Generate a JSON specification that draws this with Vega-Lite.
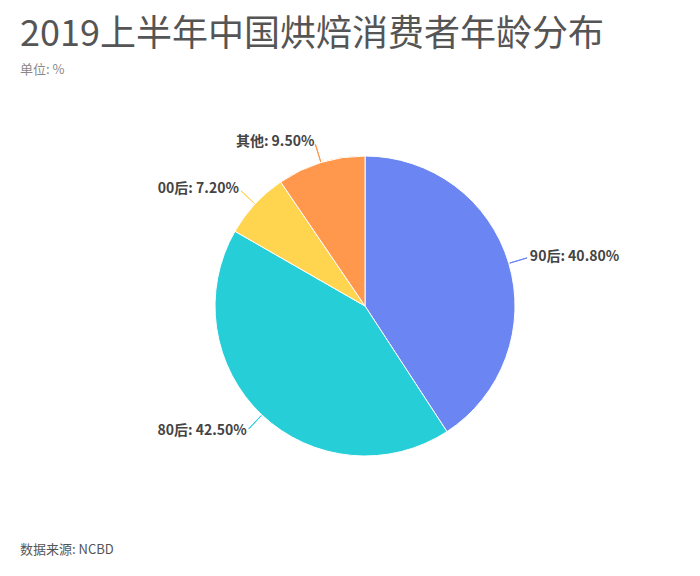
{
  "$schema": "https://vega.github.io/schema/vega-lite/v6.json",
  "autosize": "none",
  "width": 670,
  "height": 540,
  "padding": {"left": 30, "top": 36, "right": 0, "bottom": 0},
  "background": "#ffffff",
  "title": {
    "text": "2019上半年中国烘焙消费者年龄分布",
    "subtitle": "单位: %",
    "anchor": "start",
    "frame": "group",
    "dx": -10,
    "offset": -42,
    "font": "Noto Sans CJK SC",
    "fontSize": 36,
    "fontWeight": "normal",
    "color": "#555555",
    "subtitleFont": "Noto Sans CJK SC",
    "subtitleFontSize": 13,
    "subtitleColor": "#888888",
    "subtitlePadding": 10
  },
  "config": {"view": {"stroke": null}},
  "data": {
    "values": [
      {"name": "90后", "value": 40.8},
      {"name": "80后", "value": 42.5},
      {"name": "00后", "value": 7.2},
      {"name": "其他", "value": 9.5}
    ]
  },
  "transform": [
    {"window": [{"op": "row_number", "as": "i"}]},
    {"calculate": "datum.name + ': ' + format(datum.value, '.2f') + '%'", "as": "label"}
  ],
  "layer": [
    {
      "mark": {"type": "arc", "outerRadius": 150, "stroke": "#ffffff", "strokeWidth": 1},
      "encoding": {
        "theta": {"field": "value", "type": "quantitative", "stack": true, "scale": {"domain": [0, 100]}},
        "order": {"field": "i", "type": "quantitative"},
        "color": {
          "field": "name",
          "type": "nominal",
          "scale": {
            "domain": ["90后", "80后", "00后", "其他"],
            "range": ["#6b86f2", "#26cfd8", "#ffd44f", "#ff974d"]
          },
          "legend": null
        }
      }
    },
    {
      "transform": [
        {"stack": "value", "groupby": [], "sort": [{"field": "i", "order": "ascending"}], "as": ["v0", "v1"]},
        {"calculate": "(datum.v0 + datum.v1) / 2", "as": "mid"},
        {"calculate": "datum.mid + 0.02", "as": "mid2"}
      ],
      "mark": {"type": "arc", "innerRadius": 151, "outerRadius": 169, "strokeWidth": 1},
      "encoding": {
        "theta": {"field": "mid", "type": "quantitative", "scale": {"domain": [0, 100]}},
        "theta2": {"field": "mid2"},
        "color": {"field": "name", "type": "nominal", "legend": null},
        "stroke": {
          "field": "name",
          "type": "nominal",
          "scale": {
            "domain": ["90后", "80后", "00后", "其他"],
            "range": ["#6b86f2", "#26cfd8", "#ffd44f", "#ff974d"]
          },
          "legend": null
        }
      }
    },
    {
      "mark": {"type": "text", "radius": 172, "align": "left", "baseline": "middle", "font": "Noto Sans CJK SC", "fontSize": 14, "fontWeight": "bold", "fill": "#444444"},
      "encoding": {
        "theta": {"field": "value", "type": "quantitative", "stack": true, "scale": {"domain": [0, 100]}},
        "order": {"field": "i", "type": "quantitative"},
        "text": {"condition": {"test": "datum.name === '90后'", "field": "label"}, "value": ""}
      }
    },
    {
      "mark": {"type": "text", "radius": 172, "align": "right", "baseline": "middle", "font": "Noto Sans CJK SC", "fontSize": 14, "fontWeight": "bold", "fill": "#444444"},
      "encoding": {
        "theta": {"field": "value", "type": "quantitative", "stack": true, "scale": {"domain": [0, 100]}},
        "order": {"field": "i", "type": "quantitative"},
        "text": {"condition": {"test": "datum.name !== '90后'", "field": "label"}, "value": ""}
      }
    },
    {
      "data": {"values": [{"note": "数据来源: NCBD"}]},
      "mark": {"type": "text", "align": "left", "baseline": "middle", "font": "Noto Sans CJK SC", "fontSize": 13, "fill": "#555555"},
      "encoding": {
        "text": {"field": "note"},
        "x": {"value": -10},
        "y": {"value": 514}
      }
    }
  ]
}
